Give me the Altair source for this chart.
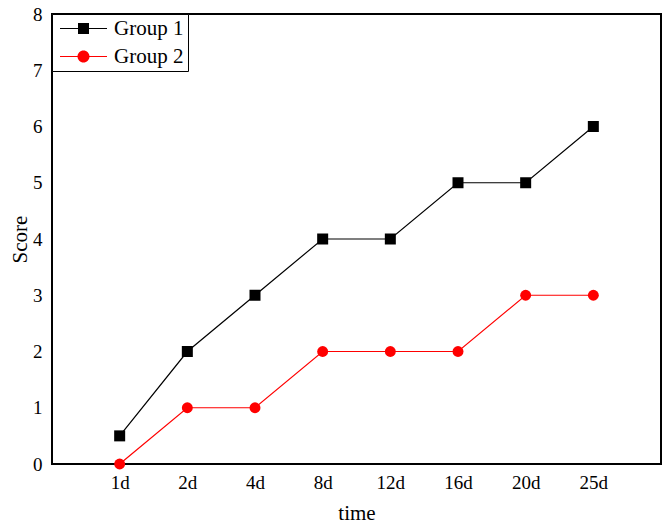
import altair as alt
import pandas as pd

times = ["1d", "2d", "4d", "8d", "12d", "16d", "20d", "25d"]
group1 = [0.5, 2, 3, 4, 4, 5, 5, 6]
group2 = [0, 1, 1, 2, 2, 2, 3, 3]
groups = ["Group 1", "Group 2"]
colors = ["#000000", "#ff0000"]
markers = ["square", "circle"]

rows = []
for t, v in zip(times, group1):
    rows.append({"time": t, "Score": v, "group": groups[0]})
for t, v in zip(times, group2):
    rows.append({"time": t, "Score": v, "group": groups[1]})
df = pd.DataFrame(rows)

FONT = "Liberation Serif"
# legend symbols: a thin filled bar (the line) plus the marker, all filled
BAR = "M-2.35,-0.06L2.35,-0.06L2.35,0.06L-2.35,0.06Z"
PATH1 = BAR + "M-0.55,-0.55L0.55,-0.55L0.55,0.55L-0.55,0.55Z"
PATH2 = BAR + "M-0.6,0A0.6,0.6,0,1,1,0.6,0A0.6,0.6,0,1,1,-0.6,0Z"
pick = "datum.value === 'Group 1'"

legend = alt.Legend(
    title=None,
    orient="top-left",
    offset=0,
    padding=4,
    rowPadding=6,
    symbolSize=400,
    symbolOffset=17,
    labelOffset=20,
    symbolType={"expr": f"{pick} ? '{PATH1}' : '{PATH2}'"},
    symbolFillColor={"expr": f"{pick} ? '#000000' : '#ff0000'"},
    symbolStrokeColor={"expr": f"{pick} ? '#000000' : '#ff0000'"},
    symbolStrokeWidth=0,
    symbolOpacity=1,
    labelFont=FONT,
    labelFontSize=21,
    labelColor="black",
    strokeColor="black",
    fillColor="white",
)

x = alt.X(
    "time:N",
    sort=times,
    scale=alt.Scale(type="point", padding=1),
    axis=alt.Axis(
        title="time", labelAngle=0, ticks=False, domain=False, labelPadding=9,
        titlePadding=10,
    ),
)
y = alt.Y(
    "Score:Q",
    scale=alt.Scale(domain=[0, 8]),
    axis=alt.Axis(
        title="Score", values=list(range(0, 9)), ticks=False, domain=False,
        grid=False, labelPadding=10, titlePadding=2,
    ),
)
cscale = alt.Scale(domain=groups, range=colors)

lines = alt.Chart(df).mark_line(strokeWidth=1.2).encode(
    x=x, y=y, color=alt.Color("group:N", scale=cscale, legend=legend)
)
point_layers = []
for g, m, s in zip(groups, markers, [121, 120]):
    point_layers.append(
        alt.Chart(df)
        .transform_filter(alt.datum.group == g)
        .mark_point(filled=True, opacity=1, shape=m, size=s)
        .encode(x=x, y=y, color=alt.Color("group:N", scale=cscale, legend=None))
    )

chart = (
    alt.layer(lines, *point_layers)
    .properties(
        width=609,
        height=450,
        autosize=alt.AutoSizeParams(type="none"),
        padding={"left": 44, "top": 6, "right": 1, "bottom": 60},
    )
    .configure_view(stroke="black", strokeWidth=2)
    .configure_axis(
        labelFont=FONT, labelFontSize=19, labelColor="black",
        titleFont=FONT, titleFontSize=21, titleColor="black", titleFontWeight="normal",
        grid=False,
    )
)

chart.save("out.html", embed_options={"renderer": "svg", "actions": False})
